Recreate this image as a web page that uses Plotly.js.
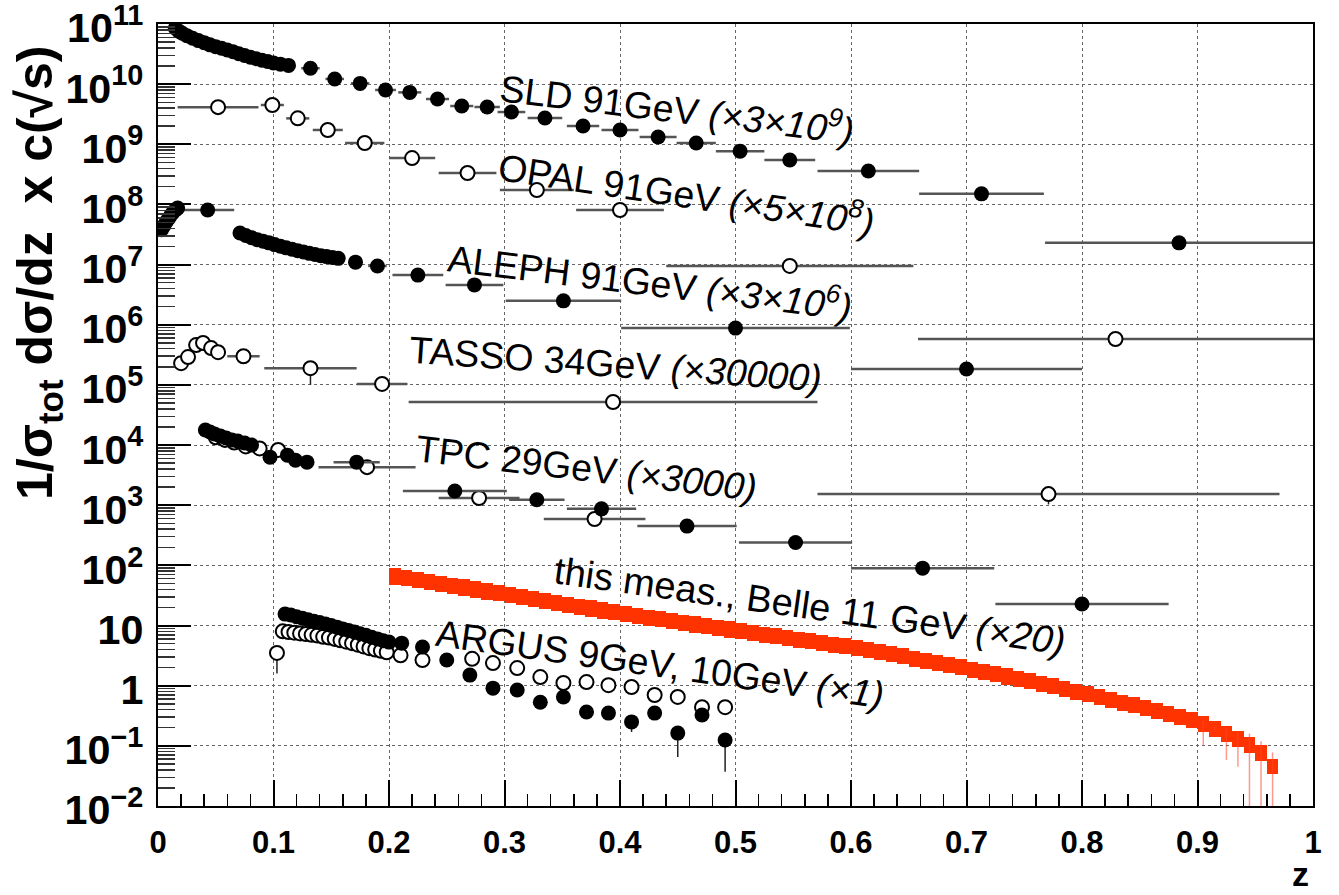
<!DOCTYPE html>
<html>
<head>
<meta charset="utf-8">
<script src="https://cdn.plot.ly/plotly-3.0.1.min.js"></script>
<style>
  html, body { margin: 0; padding: 0; background: #fff; }
  #plot { width: 1339px; height: 895px; }
</style>
</head>
<body>
<div id="plot"></div>
<script>
// ---- SLD 91 GeV (x 3e9), filled circles ----
const sldZ  = [0.015,0.018,0.021,0.025,0.030,0.035,0.040,0.045,0.050,0.055,0.060,0.065,0.070,0.075,0.080,0.085,0.090,0.095,0.100,0.106,0.113,
               0.132,0.153,0.175,0.197,0.218,0.242,0.263,0.285,0.306,0.335,0.368,0.400,0.433,0.466,0.504,0.547,0.615,0.713,0.884];
const sldY  = [8.5e10,7.6e10,7.0e10,6.4e10,5.8e10,5.3e10,4.9e10,4.5e10,4.2e10,3.95e10,3.7e10,3.45e10,3.2e10,3.0e10,2.8e10,2.65e10,2.5e10,2.38e10,2.25e10,2.15e10,2.05e10,
               1.84e10,1.22e10,1.03e10,8.0e9,7.3e9,5.66e9,4.33e9,4.17e9,3.44e9,2.74e9,2.01e9,1.73e9,1.32e9,1.05e9,7.7e8,5.5e8,3.6e8,1.5e8,2.3e7];
const sldDz = [0,0,0,0,0,0,0,0,0,0,0,0,0,0,0,0,0,0,0,0,0,
               0.008,0.008,0.008,0.009,0.010,0.010,0.010,0.011,0.012,0.015,0.014,0.016,0.016,0.017,0.021,0.022,0.044,0.054,0.116];

// ---- OPAL 91 GeV (x 5e8), open circles ----
const opalZ  = [0.052,0.099,0.121,0.147,0.179,0.220,0.268,0.328,0.400,0.547,0.829];
const opalY  = [4.15e9,4.5e9,2.7e9,1.73e9,1.05e9,5.9e8,3.33e8,1.74e8,8.1e7,9.5e6,5.8e5];
const opalDz = [0.035,0.010,0.010,0.013,0.017,0.020,0.025,0.032,0.038,0.107,0.171];

// ---- ALEPH 91 GeV (x 3e6), filled circles ----
const alephZ  = [0.003,0.005,0.007,0.009,0.011,0.013,0.015,0.017,0.043,
                 0.071,0.076,0.081,0.086,0.091,0.096,0.101,0.106,0.111,0.116,0.121,0.126,0.131,0.136,0.141,0.146,0.151,0.156,
                 0.171,0.190,0.225,0.274,0.351,0.500,0.700];
const alephY  = [3.8e7,4.4e7,5.1e7,5.8e7,6.6e7,7.4e7,8.1e7,8.7e7,8.1e7,
                 3.35e7,3.05e7,2.8e7,2.6e7,2.45e7,2.3e7,2.15e7,2.02e7,1.9e7,1.8e7,1.7e7,1.62e7,1.54e7,1.47e7,1.41e7,1.36e7,1.31e7,1.27e7,
                 1.1e7,9.5e6,6.7e6,4.6e6,2.5e6,8.8e5,1.84e5];
const alephDz = [0,0,0,0,0,0,0,0,0.023,
                 0,0,0,0,0,0,0,0,0,0,0,0,0,0,0,0,0,0,
                 0.005,0.008,0.022,0.025,0.050,0.099,0.100];

// ---- TASSO 34 GeV (x 30000), open circles ----
const tassoZ    = [0.020,0.026,0.033,0.039,0.046,0.052,0.074,0.132,0.194,0.394,0.771];
const tassoY    = [2.3e5,2.9e5,4.6e5,5.0e5,4.1e5,3.5e5,3.0e5,1.9e5,1.04e5,5.2e4,1.53e3];
const tassoDz   = [0,0,0,0,0,0,0.014,0.040,0.022,0.177,0.200];
const tassoDyLo = [0,0,0,0,0,0,0,9.0e4,2.0e4,0,5.0e2];

// ---- TPC 29 GeV (x 3000), filled and open circles ----
const tpcFilledZ  = [0.041,0.045,0.049,0.054,0.059,0.064,0.069,0.075,0.081,0.097,0.112,0.119,0.129,0.172,0.257,0.328,0.384,0.458,0.552,0.662,0.800];
const tpcFilledY  = [1.78e4,1.65e4,1.53e4,1.41e4,1.31e4,1.21e4,1.17e4,1.08e4,1.0e4,6.3e3,6.8e3,5.6e3,5.2e3,5.2e3,1.72e3,1.23e3,8.7e2,4.5e2,2.4e2,90,22.8];
const tpcFilledDz = [0,0,0,0,0,0,0,0,0,0,0,0,0,0.020,0.045,0.024,0.030,0.043,0.049,0.062,0.075];
const tpcOpenZ    = [0.050,0.058,0.066,0.076,0.088,0.104,0.181,0.278,0.378];
const tpcOpenY    = [1.35e4,1.22e4,1.1e4,9.5e3,8.8e3,8.3e3,4.3e3,1.32e3,5.9e2];
const tpcOpenDz   = [0,0,0,0,0,0,0.042,0.035,0.044];

// ---- ARGUS 9 GeV, 10 GeV (x 1), filled and open circles ----
const argusFilledZ    = [0.110,0.115,0.120,0.125,0.130,0.135,0.140,0.145,0.150,0.155,0.160,0.165,0.170,0.175,0.180,0.185,0.190,0.195,0.200,
                         0.211,0.229,0.250,0.270,0.290,0.311,0.331,0.351,0.371,0.390,0.410,0.430,0.450,0.471,0.491];
const argusFilledY    = [15.5,15.0,14.0,13.2,12.5,11.8,11.2,10.6,10.0,9.4,8.8,8.3,7.8,7.3,6.9,6.4,6.0,5.6,5.3,
                         5.1,4.4,2.67,1.5,0.91,0.85,0.53,0.65,0.365,0.35,0.25,0.35,0.163,0.325,0.125];
const argusFilledDyLo = [0,0,0,0,0,0,0,0,0,0,0,0,0,0,0,0,0,0,0,
                         0,0,0,0,0,0,0,0,0,0,0.08,0,0.098,0,0.088];
const argusOpenZ    = [0.103,0.108,0.113,0.118,0.123,0.128,0.133,0.138,0.143,0.148,0.153,0.158,0.163,0.168,0.173,0.178,0.183,0.188,0.193,0.198,
                       0.210,0.229,0.272,0.290,0.311,0.331,0.351,0.371,0.390,0.410,0.430,0.450,0.471,0.491];
const argusOpenY    = [3.5,8.0,7.8,7.6,7.4,7.2,7.0,6.8,6.5,6.3,6.0,5.7,5.4,5.1,4.8,4.5,4.2,4.0,3.8,3.6,
                       3.2,2.67,2.8,2.38,1.96,1.39,1.11,1.15,1.02,0.95,0.70,0.65,0.44,0.44];
const argusOpenDyLo = [1.9,0,0,0,0,0,0,0,0,0,0,0,0,0,0,0,0,0,0,0,
                       0,0,0,0,0,0,0,0,0,0,0,0,0,0];
const argusOpenDyHi = [1.0,0,0,0,0,0,0,0,0,0,0,0,0,0,0,0,0,0,0,0,
                       0,0,0,0,0,0,0,0,0,0,0,0,0,0];

// ---- this measurement, Belle 11 GeV (x 20): 0.01-wide z bins ----
const belleZ = [0.205,0.215,0.225,0.235,0.245,0.255,0.265,0.275,0.285,0.295,
                0.305,0.315,0.325,0.335,0.345,0.355,0.365,0.375,0.385,0.395,
                0.405,0.415,0.425,0.435,0.445,0.455,0.465,0.475,0.485,0.495,
                0.505,0.515,0.525,0.535,0.545,0.555,0.565,0.575,0.585,0.595,
                0.605,0.615,0.625,0.635,0.645,0.655,0.665,0.675,0.685,0.695,
                0.705,0.715,0.725,0.735,0.745,0.755,0.765,0.775,0.785,0.795,
                0.805,0.815,0.825,0.835,0.845,0.855,0.865,0.875,0.885,0.895,
                0.905,0.915,0.925,0.935,0.945,0.955,0.965];
const belleY = [68.4,63.8,59.6,55.6,51.9,48.3,44.9,41.7,38.7,36.0,
                33.4,31.0,28.8,26.8,24.9,23.2,21.6,20.1,18.7,17.4,
                16.3,15.2,14.2,13.3,12.4,11.6,10.9,10.2,9.6,9.0,
                8.43,7.91,7.41,6.95,6.52,6.11,5.73,5.37,5.04,4.72,
                4.45,4.13,3.80,3.50,3.22,2.95,2.72,2.50,2.30,2.12,
                1.91,1.76,1.62,1.49,1.37,1.25,1.13,1.02,0.925,0.836,
                0.753,0.678,0.61,0.548,0.493,0.442,0.394,0.351,0.313,0.279,
                0.24,0.20,0.166,0.138,0.11,0.079,0.048];
// relative systematic uncertainty (drawn as error boxes)
const belleSys = [0.3,0.3,0.3,0.3,0.3,0.3,0.3,0.3,0.3,0.3,
                  0.3,0.3,0.3,0.3,0.3,0.3,0.3,0.3,0.3,0.3,
                  0.3,0.3,0.3,0.3,0.3,0.3,0.3,0.3,0.3,0.3,
                  0.3,0.3,0.3,0.3,0.3,0.3,0.3,0.3,0.3,0.3,
                  0.3,0.3,0.3,0.3,0.3,0.3,0.3,0.3,0.3,0.3,
                  0.3,0.3,0.3,0.3,0.3,0.3,0.3,0.3,0.3,0.3,
                  0.3,0.3,0.3,0.3,0.3,0.3,0.3,0.3,0.3,0.3,
                  0.3,0.3,0.3,0.3,0.3,0.3,0.28];
// statistical uncertainty (thin lines), only visible in the last bins
const belleStatUp = [0,0,0,0,0,0,0,0,0,0, 0,0,0,0,0,0,0,0,0,0, 0,0,0,0,0,0,0,0,0,0,
                     0,0,0,0,0,0,0,0,0,0, 0,0,0,0,0,0,0,0,0,0, 0,0,0,0,0,0,0,0,0,0,
                     0,0,0,0,0,0,0,0,0,0, 0.02,0.01,0.03,0.03,0.05,0.04,0.03];
const belleStatDown = [0,0,0,0,0,0,0,0,0,0, 0,0,0,0,0,0,0,0,0,0, 0,0,0,0,0,0,0,0,0,0,
                       0,0,0,0,0,0,0,0,0,0, 0,0,0,0,0,0,0,0,0,0, 0,0,0,0,0,0,0,0,0,0,
                       0,0,0,0,0,0,0,0,0,0, 0.14,0.02,0.108,0.093,0.1085,0.0785,0.0475];
const belleBinWidth = 0.01;

// ---- page geometry ----
const W = 1339, H = 895, ML = 158, MR = 26, MT = 24, MB = 89;
const PW = W - ML - MR, PH = H - MT - MB;
const fx = p => (p - ML) / PW;          // pixel column -> paper x
const fy = p => (H - MB - p) / PH;      // pixel row    -> paper y

const FONT = 'Liberation Sans, Arial, Helvetica, sans-serif';
const BAR_COLOR = '#555';

const filledMarker = { symbol: 'circle', size: 15, color: '#000' };
const openMarker = { symbol: 'circle', size: 14, color: '#fff', line: { color: '#000', width: 2 } };

function xErr(arr) {
  return { type: 'data', array: arr, visible: true, color: BAR_COLOR, thickness: 2.5, width: 0 };
}
function yErrDown(lo, hi) {
  return { type: 'data', symmetric: false, array: hi || lo.map(() => 0), arrayminus: lo,
           visible: true, color: '#222', thickness: 1.5, width: 0 };
}

const traces = [
  // Belle boxes
  {
    type: 'bar', x: belleZ,
    base: belleY.map((v, i) => v * (1 - belleSys[i])),
    y: belleY.map((v, i) => 2 * v * belleSys[i]),
    width: belleZ.map(() => belleBinWidth),
    marker: { color: '#ff3300', line: { width: 0 } },
    hoverinfo: 'skip'
  },
  // Belle statistical error lines
  {
    type: 'scatter', mode: 'markers', x: belleZ, y: belleY,
    marker: { size: 1, color: 'rgba(0,0,0,0)' },
    error_y: { type: 'data', symmetric: false, array: belleStatUp, arrayminus: belleStatDown,
               visible: true, color: 'rgba(255,70,50,0.55)', thickness: 1.5, width: 0 },
    hoverinfo: 'skip'
  },
  { type: 'scatter', mode: 'markers', name: 'SLD', x: sldZ, y: sldY, error_x: xErr(sldDz), marker: filledMarker },
  { type: 'scatter', mode: 'markers', name: 'OPAL', x: opalZ, y: opalY, error_x: xErr(opalDz), marker: openMarker },
  { type: 'scatter', mode: 'markers', name: 'ALEPH', x: alephZ, y: alephY, error_x: xErr(alephDz), marker: filledMarker },
  { type: 'scatter', mode: 'markers', name: 'TASSO', x: tassoZ, y: tassoY, error_x: xErr(tassoDz),
    error_y: yErrDown(tassoDyLo), marker: openMarker },
  { type: 'scatter', mode: 'markers', name: 'TPC open', x: tpcOpenZ, y: tpcOpenY, error_x: xErr(tpcOpenDz), marker: openMarker },
  { type: 'scatter', mode: 'markers', name: 'TPC', x: tpcFilledZ, y: tpcFilledY, error_x: xErr(tpcFilledDz), marker: filledMarker },
  { type: 'scatter', mode: 'markers', name: 'ARGUS open', x: argusOpenZ, y: argusOpenY,
    error_y: yErrDown(argusOpenDyLo, argusOpenDyHi), marker: openMarker },
  { type: 'scatter', mode: 'markers', name: 'ARGUS', x: argusFilledZ, y: argusFilledY,
    error_y: yErrDown(argusFilledDyLo), marker: filledMarker }
];

function label(text, x, y, angle, size, weight) {
  return {
    xref: 'paper', yref: 'paper', x: fx(x), y: fy(y),
    xanchor: 'center', yanchor: 'middle', showarrow: false,
    text: text, textangle: angle,
    font: { family: FONT, size: size || 37.5, color: '#000', weight: weight || 'normal' }
  };
}

const NB = '\u00A0';
const annotations = [
  label('SLD 91GeV <i>(×3×10<sup>9</sup>)</i>', 677, 107, 7),
  label('OPAL 91GeV <i>(×5×10<sup>8</sup>)</i>', 686, 192, 8.5),
  label('ALEPH 91GeV <i>(×3×10<sup>6</sup>)</i>', 650, 280, 7),
  label('TASSO 34GeV <i>(×30000)</i>', 615, 364, 4),
  label('TPC 29GeV <i>(×3000)</i>', 586, 468, 6.7),
  label('this meas., Belle 11 GeV <i>(×20)</i>', 810, 606, 8, 38),
  label('ARGUS 9GeV, 10GeV <i>(×1)</i>', 660, 664, 8),
  label('1/σ<sub>tot</sub> dσ/dz' + NB + NB + 'x' + NB + 'c(√s)', 38, 273, -90, 50, 'bold'),
  label('z', 1300, 874, 0, 34, 'bold')
];

const axisCommon = {
  ticks: 'inside', tickcolor: '#000', tickwidth: 2,
  showline: true, linecolor: '#000', linewidth: 2, mirror: true,
  showgrid: true, gridcolor: '#666', griddash: 'dot', gridwidth: 1,
  zeroline: false, ticklabeloverflow: 'allow'
};

const layout = {
  width: W, height: H,
  margin: { l: ML, r: MR, t: MT, b: MB, pad: 0 },
  paper_bgcolor: '#fff', plot_bgcolor: '#fff',
  showlegend: false, barmode: 'overlay', bargap: 0,
  xaxis: Object.assign({}, axisCommon, {
    range: [0, 1], tick0: 0, dtick: 0.1, ticklen: 26,
    tickfont: { family: FONT, size: 31, color: '#000', weight: 'bold' },
    ticklabelstandoff: 8,
    minor: { ticks: 'inside', ticklen: 12, dtick: 0.02, tickwidth: 1.5, tickcolor: '#000', showgrid: false }
  }),
  yaxis: Object.assign({}, axisCommon, {
    type: 'log', range: [-2, 11], tick0: 0, dtick: 1, exponentformat: 'power', ticklen: 33,
    tickfont: { family: FONT, size: 33, color: '#000', weight: 'bold' },
    ticklabelstandoff: 6, ticklabelshift: 4,
    minor: { ticks: 'inside', ticklen: 17, dtick: 'D1', tickwidth: 1.5, tickcolor: '#333', showgrid: false }
  }),
  annotations: annotations
};

Plotly.newPlot('plot', traces, layout, { displayModeBar: false, staticPlot: true });
</script>
</body>
</html>
